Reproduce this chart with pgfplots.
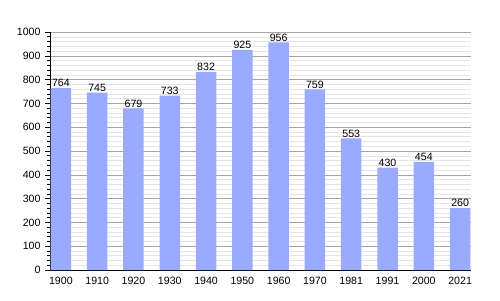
\documentclass[border=0pt]{standalone}
\usepackage{pgfplots}
\pgfplotsset{compat=1.18}
\usepackage{fontspec}
\setmainfont{Liberation Sans}
\definecolor{barblue}{HTML}{99AAFF}
\begin{document}
\begin{tikzpicture}
\begin{axis}[
  name=ax,
  scale only axis,
  width=421pt, height=238pt,
  xmin=-0.3, xmax=11.3,
  ymin=0, ymax=1000,
  axis x line*=bottom,
  axis y line*=left,
  axis line style={black, line width=0.8pt},
  ytick={0,100,...,1000},
  minor y tick num=4,
  xtick={0,...,11},
  xticklabels={1900,1910,1920,1930,1940,1950,1960,1970,1981,1991,2000,2021},
  x tick style={draw=none},
  y tick style={black, line width=0.6pt},
  major tick length=5pt,
  minor tick length=3pt,
  tick align=outside,
  ymajorgrids, yminorgrids,
  major grid style={gray!70, line width=0.6pt},
  minor grid style={gray!20, line width=0.5pt},
  tick label style={font=\fontsize{10.6}{12}\selectfont},
  /pgf/number format/assume math mode=true,
  /pgf/number format/1000 sep={},
  yticklabel style={xshift=-1pt},
  xticklabel style={yshift=1pt},
  ybar, bar width=20.5pt,
  nodes near coords,
  nodes near coords style={font=\fontsize{10.6}{12}\selectfont, inner sep=1pt, yshift=0pt},
  clip=false,
]
\addplot[fill=barblue, draw=none] coordinates {
(0,764) (1,745) (2,679) (3,733) (4,832) (5,925) (6,956) (7,759) (8,553) (9,430) (10,454) (11,260)};
\end{axis}
\path[use as bounding box] ([shift={(-50pt,-30pt)}]ax.south west) rectangle ([shift={(29pt,32pt)}]ax.north east);
\end{tikzpicture}
\end{document}
